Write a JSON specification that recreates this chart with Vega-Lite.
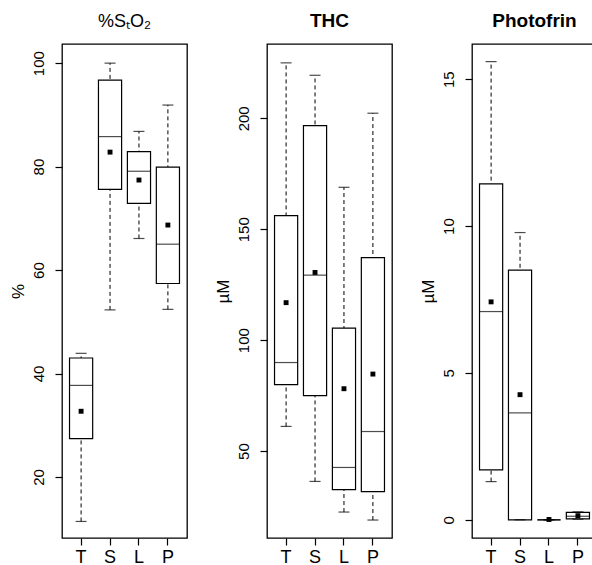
{
  "$schema": "https://vega.github.io/schema/vega-lite/v6.json",
  "padding": {"left": 8, "top": 11, "right": 0, "bottom": 0},
  "spacing": 25,
  "background": "white",
  "config": {
    "font": "Liberation Sans",
    "view": {"stroke": "black", "strokeWidth": 1.3},
    "title": {"fontSize": 19, "font": "Liberation Sans", "color": "black", "offset": 13},
    "axis": {"domain": false, "grid": false, "tickColor": "black", "labelColor": "black", "titleColor": "black", "labelFont": "Liberation Sans", "titleFont": "Liberation Sans", "titleFontWeight": "normal", "tickWidth": 1.2},
    "axisY": {"labelAngle": -90, "labelAlign": "center", "labelBaseline": "bottom", "labelFontSize": 15, "tickSize": 7, "labelPadding": 9, "titleFontSize": 17, "titlePadding": 9, "minExtent": 26, "maxExtent": 26},
    "axisX": {"labelAngle": 0, "labelFontSize": 18, "tickSize": 7, "labelPadding": 3}
  },
  "datasets": {
    "box": [
      {"panel": "StO2", "cat": "T", "wlo": 11.4, "q1": 27.4, "med": 37.7, "q3": 43.0, "whi": 43.9, "mean": 32.7},
      {"panel": "StO2", "cat": "S", "wlo": 52.3, "q1": 75.6, "med": 85.8, "q3": 96.7, "whi": 100.0, "mean": 82.8},
      {"panel": "StO2", "cat": "L", "wlo": 66.1, "q1": 72.9, "med": 79.1, "q3": 82.9, "whi": 86.8, "mean": 77.4},
      {"panel": "StO2", "cat": "P", "wlo": 52.4, "q1": 57.4, "med": 65.0, "q3": 79.9, "whi": 91.9, "mean": 68.7},
      {"panel": "THC", "cat": "T", "wlo": 61.1, "q1": 79.9, "med": 89.9, "q3": 156.1, "whi": 225.0, "mean": 116.9},
      {"panel": "THC", "cat": "S", "wlo": 36.3, "q1": 75.0, "med": 129.3, "q3": 196.7, "whi": 219.4, "mean": 130.5},
      {"panel": "THC", "cat": "L", "wlo": 22.5, "q1": 32.6, "med": 42.6, "q3": 105.4, "whi": 168.9, "mean": 78.1},
      {"panel": "THC", "cat": "P", "wlo": 18.9, "q1": 31.7, "med": 58.8, "q3": 137.2, "whi": 202.3, "mean": 84.7},
      {"panel": "Photofrin", "cat": "T", "wlo": 1.3, "q1": 1.7, "med": 7.09, "q3": 11.44, "whi": 15.6, "mean": 7.42},
      {"panel": "Photofrin", "cat": "S", "wlo": 0.0, "q1": 0.0, "med": 3.64, "q3": 8.5, "whi": 9.78, "mean": 4.26},
      {"panel": "Photofrin", "cat": "L", "wlo": 0.0, "q1": 0.0, "med": 0.0, "q3": 0.0, "whi": 0.0, "mean": 0.01},
      {"panel": "Photofrin", "cat": "P", "wlo": 0.02, "q1": 0.03, "med": 0.12, "q3": 0.25, "whi": 0.27, "mean": 0.14}
    ]
  },
  "data": {"name": "box"},
  "hconcat": [
    {
      "width": 125, "height": 494,
      "title": {"text": "%SₜO₂", "fontWeight": "normal", "fontSize": 18},
      "transform": [{"filter": "datum.panel === 'StO2'"}],
      "encoding": {"x": {"field": "cat", "type": "nominal", "sort": ["T", "S", "L", "P"], "scale": {"type": "band", "paddingInner": 0.2, "paddingOuter": 0.26}, "axis": {"title": null}}},
      "layer": [
        {"mark": {"type": "rule", "strokeDash": [4, 3], "color": "black", "strokeWidth": 1}, "encoding": {"y": {"field": "wlo", "type": "quantitative", "scale": {"domain": [8.2, 103.7], "nice": false, "zero": false}, "axis": {"title": "%", "values": [20, 40, 60, 80, 100]}}, "y2": {"field": "whi"}}},
        {"mark": {"type": "bar", "fill": "white", "stroke": "black", "strokeWidth": 1.2}, "encoding": {"y": {"field": "q1", "type": "quantitative"}, "y2": {"field": "q3"}}},
        {"mark": {"type": "tick", "color": "black", "size": 11, "thickness": 1.2}, "encoding": {"y": {"field": "wlo", "type": "quantitative"}}},
        {"mark": {"type": "tick", "color": "black", "size": 11, "thickness": 1.2}, "encoding": {"y": {"field": "whi", "type": "quantitative"}}},
        {"mark": {"type": "tick", "color": "black", "size": 23, "thickness": 1.2}, "encoding": {"y": {"field": "med", "type": "quantitative"}}},
        {"mark": {"type": "point", "shape": "square", "filled": true, "size": 24, "color": "black", "opacity": 1}, "encoding": {"y": {"field": "mean", "type": "quantitative"}}}
      ]
    },
    {
      "width": 125, "height": 494,
      "title": {"text": "THC", "fontWeight": "bold"},
      "transform": [{"filter": "datum.panel === 'THC'"}],
      "encoding": {"x": {"field": "cat", "type": "nominal", "sort": ["T", "S", "L", "P"], "scale": {"type": "band", "paddingInner": 0.2, "paddingOuter": 0.26}, "axis": {"title": null}}},
      "layer": [
        {"mark": {"type": "rule", "strokeDash": [4, 3], "color": "black", "strokeWidth": 1}, "encoding": {"y": {"field": "wlo", "type": "quantitative", "scale": {"domain": [10.8, 233.5], "nice": false, "zero": false}, "axis": {"title": "µM", "values": [50, 100, 150, 200]}}, "y2": {"field": "whi"}}},
        {"mark": {"type": "bar", "fill": "white", "stroke": "black", "strokeWidth": 1.2}, "encoding": {"y": {"field": "q1", "type": "quantitative"}, "y2": {"field": "q3"}}},
        {"mark": {"type": "tick", "color": "black", "size": 11, "thickness": 1.2}, "encoding": {"y": {"field": "wlo", "type": "quantitative"}}},
        {"mark": {"type": "tick", "color": "black", "size": 11, "thickness": 1.2}, "encoding": {"y": {"field": "whi", "type": "quantitative"}}},
        {"mark": {"type": "tick", "color": "black", "size": 23, "thickness": 1.2}, "encoding": {"y": {"field": "med", "type": "quantitative"}}},
        {"mark": {"type": "point", "shape": "square", "filled": true, "size": 24, "color": "black", "opacity": 1}, "encoding": {"y": {"field": "mean", "type": "quantitative"}}}
      ]
    },
    {
      "width": 125, "height": 494,
      "title": {"text": "Photofrin", "fontWeight": "bold"},
      "transform": [{"filter": "datum.panel === 'Photofrin'"}],
      "encoding": {"x": {"field": "cat", "type": "nominal", "sort": ["T", "S", "L", "P"], "scale": {"type": "band", "paddingInner": 0.2, "paddingOuter": 0.26}, "axis": {"title": null}}},
      "layer": [
        {"mark": {"type": "rule", "strokeDash": [4, 3], "color": "black", "strokeWidth": 1}, "encoding": {"y": {"field": "wlo", "type": "quantitative", "scale": {"domain": [-0.62, 16.2], "nice": false, "zero": false}, "axis": {"title": "µM", "values": [0, 5, 10, 15]}}, "y2": {"field": "whi"}}},
        {"mark": {"type": "bar", "fill": "white", "stroke": "black", "strokeWidth": 1.2}, "encoding": {"y": {"field": "q1", "type": "quantitative"}, "y2": {"field": "q3"}}},
        {"mark": {"type": "tick", "color": "black", "size": 11, "thickness": 1.2}, "encoding": {"y": {"field": "wlo", "type": "quantitative"}}},
        {"mark": {"type": "tick", "color": "black", "size": 11, "thickness": 1.2}, "encoding": {"y": {"field": "whi", "type": "quantitative"}}},
        {"mark": {"type": "tick", "color": "black", "size": 23, "thickness": 1.2}, "encoding": {"y": {"field": "med", "type": "quantitative"}}},
        {"mark": {"type": "point", "shape": "square", "filled": true, "size": 24, "color": "black", "opacity": 1}, "encoding": {"y": {"field": "mean", "type": "quantitative"}}}
      ]
    }
  ]
}
